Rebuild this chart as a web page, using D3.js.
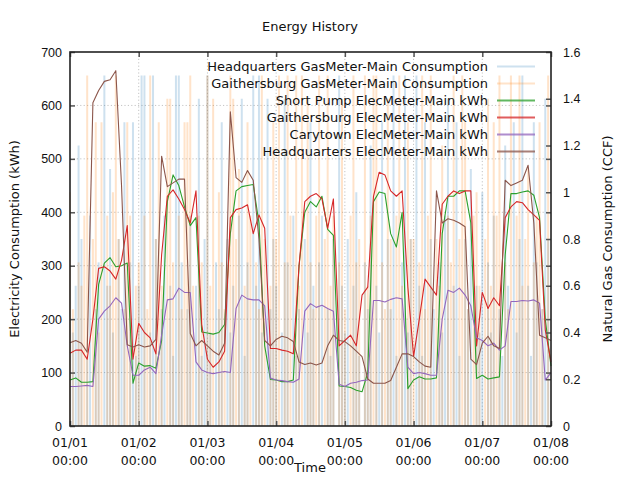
<!DOCTYPE html>
<html>
<head>
<meta charset="utf-8">
<script src="https://cdn.jsdelivr.net/npm/d3@7"></script>
<style>
  body { margin: 0; background: #fff; }
  svg { font-family: "DejaVu Sans", sans-serif; }
</style>
</head>
<body>
<div id="chart"></div>
<script>
var svgWidth = 640;
var svgHeight = 480;

var margin = {
  top: 52,
  right: 89,
  bottom: 54,
  left: 70
};

var width = svgWidth - margin.left - margin.right;
var height = svgHeight - margin.top - margin.bottom;

// electricity, one reading every 2 hours from 01/01 00:00 to 01/08 00:00
var elecHours = d3.range(0, 169, 2);

var hqElec = [156,160,155,138,605,628,645,648,665,450,152,148,
  152,148,150,162,505,448,455,462,462,173,150,160,
  150,140,133,155,588,465,456,478,460,350,160,150,
  162,168,165,158,120,115,118,114,118,150,170,160,
  158,150,140,130,88,80,80,80,85,110,135,135,
  130,120,112,110,440,380,388,385,380,373,125,115,
  155,168,150,145,460,450,455,460,488,380,170,165,
  160];

var gaithElec = [136,142,142,125,200,295,298,290,275,310,375,125,
  192,175,165,135,320,430,442,425,405,380,440,190,
  125,110,120,140,390,405,408,414,360,395,370,145,
  145,142,140,135,300,420,430,435,425,370,425,150,
  160,170,150,245,260,430,475,470,440,430,440,260,
  130,200,275,260,245,415,430,440,435,440,440,150,
  250,220,240,225,390,410,420,418,405,395,385,180,
  120];

var shortPumpElec = [86,90,82,82,83,265,305,315,298,300,305,80,
  118,112,113,108,160,420,470,450,410,375,390,176,
  174,172,175,190,360,440,448,450,452,380,150,87,
  86,83,83,86,300,400,420,410,430,368,357,75,
  74,72,67,64,100,420,438,435,360,335,400,70,
  86,92,88,88,90,360,430,430,440,440,380,89,
  95,88,90,92,320,435,435,438,440,432,390,200,
  112];

var carytownElec = [74,74,75,76,74,200,215,225,240,230,150,95,
  95,105,110,98,170,236,238,258,250,250,120,105,
  100,98,100,102,100,220,245,238,236,236,225,90,
  86,85,83,82,88,215,229,222,226,220,215,78,
  74,80,82,85,86,235,235,232,237,240,238,110,
  98,100,98,95,95,200,254,250,258,245,225,165,
  160,150,155,142,150,233,233,235,234,236,230,86,
  100];

// natural gas, hourly readings (CCF)
var gasHours = d3.range(0, 168);

var hqGas = [0,0.4,0.6,1.2,0.8,0,0.3,0.9,0,0.5,0.7,0,1.5,0.6,1.1,0.4,0,0.8,0.5,1.3,0,0.7,1.3,0.3,
  0.6,1.5,1.5,0,0.4,1.5,0.8,0,0.5,0.9,0,0.6,0.3,1.5,1.5,0.7,0,0.5,0.9,0,0.6,1.4,0.3,0.8,
  1.5,0.4,0,0.7,0.5,1.3,0,0.8,0.4,0.6,0,0.9,1.4,0.3,0.7,0,1.5,0.6,1.5,0.4,0,1.4,0.5,0.8,
  0.6,0,0.4,1.4,0.7,0,0.9,0.3,0.5,0,0.8,0.4,1.3,0.6,0,0.7,0.9,0,0.5,0.3,0.8,0,1.5,0.6,
  0.4,0.8,0,0.6,1.0,0.3,0,0.7,0.5,1.2,0,0.6,0.4,1.3,0,0.8,0.5,1.5,0.3,0,0.7,1.5,0.4,0.8,
  0,1.5,0.6,0.3,1.3,0,0.8,0.5,0,0.7,0.4,0.9,1.4,0,0.6,1.3,0.3,0,0.8,0.5,1.1,0,0.6,0.4,
  1.0,0,0.7,0.4,0.9,0,0.5,0.3,1.2,0.6,0,1.3,0.4,0.8,1.5,0,0.6,0.3,1.3,0.7,0,0.5,1.4,0.8];

var gaithGas = [1.0,0.5,0,0.7,0.6,0.9,1.5,0,0.8,1.3,0.4,1.3,0,0.9,0.6,1.0,1.5,0.8,0,0.5,1.3,0.9,0,0.6,
  0.7,0,0.9,0.5,1.5,0,0.8,1.3,0.6,0,1.4,1.4,0.7,0,0.9,0.5,1.3,1.3,1.5,0.6,0,0.9,0.7,0,
  1.5,0.6,1.4,0,1.0,0.7,0.5,0,1.5,1.4,0.8,1.1,0,0.6,1.3,0.9,0,0.7,0.5,1.5,0.8,0,0.6,1.3,
  0.8,1.5,0,0.7,1.5,0.9,0,1.5,0.6,1.5,0,1.4,0.7,0.5,0.9,1.5,0,0.8,1.5,0.6,0.9,0,0.7,1.4,
  0.5,0,0.9,1.5,0.7,0.8,0,1.5,0.6,0.9,1.5,1.5,0,0.7,0.5,1.4,0.8,0,0.9,1.5,0.6,0,1.3,0.8,
  0.8,0,0.7,1.5,0.5,0.9,1.5,0,0.8,0.6,1.2,0,0.9,0.7,1.5,0,0.8,1.5,1.3,0.5,0,0.9,1.0,0.6,
  0,0.8,1.4,0.6,1.3,0.9,1.5,0,0.7,0.5,1.5,0,0.9,1.5,0.6,0.8,1.1,0,0.7,0.9,1.3,0.5,0,1.5];

var elecTicks = [0,100,200,300,400,500,600,700];
var gasTicks = [0,0.2,0.4,0.6,0.8,1.0,1.2,1.4,1.6];

var legendNames = ["Headquarters GasMeter-Main Consumption",
  "Gaithersburg GasMeter-Main Consumption",
  "Short Pump ElecMeter-Main kWh",
  "Gaithersburg ElecMeter-Main kWh",
  "Carytown ElecMeter-Main kWh",
  "Headquarters ElecMeter-Main kWh"];

var startDate = new Date(2019, 0, 1);
function hourDate(h) { return new Date(2019, 0, 1, h); }

var svg = d3.select("#chart")
  .append("svg")
  .attr("width", svgWidth)
  .attr("height", svgHeight);

var chartGroup = svg.append("g")
  .attr("transform", `translate(${margin.left}, ${margin.top})`);

var xScale = d3.scaleTime()
  .domain([startDate, new Date(2019, 0, 8)])
  .range([0, width]);
var yScale = d3.scaleLinear().domain([0, 700]).range([height, 0]);
var y2Scale = d3.scaleLinear().domain([0, 1.6]).range([height, 0]);

var dayTicks = xScale.ticks(d3.timeDay.every(1));

// dotted grid
chartGroup.selectAll(".hgrid")
  .data(elecTicks.slice(1, -1))
  .enter()
  .append("line")
  .attr("x1", 0).attr("x2", width)
  .attr("y1", d => yScale(d)).attr("y2", d => yScale(d))
  .attr("stroke", "#c4c4c4")
  .attr("stroke-dasharray", "1.2,2.2");

chartGroup.selectAll(".vgrid")
  .data(dayTicks.slice(1, -1))
  .enter()
  .append("line")
  .attr("x1", d => xScale(d)).attr("x2", d => xScale(d))
  .attr("y1", 0).attr("y2", height)
  .attr("stroke", "#c4c4c4")
  .attr("stroke-dasharray", "1.2,2.2");

// gas impulses
var gasSeries = [
  { values: hqGas, color: "#1f77b4" },
  { values: gaithGas, color: "#ff7f0e" }
];

gasSeries.forEach(function (s) {
  chartGroup.append("g")
    .selectAll("line")
    .data(gasHours.filter(h => s.values[h] > 0))
    .enter()
    .append("line")
    .attr("x1", h => xScale(hourDate(h)))
    .attr("x2", h => xScale(hourDate(h)))
    .attr("y1", y2Scale(0))
    .attr("y2", h => y2Scale(s.values[h]))
    .attr("stroke", s.color)
    .attr("stroke-width", 2)
    .attr("stroke-opacity", 0.22);
});

// electricity lines
var elecSeries = [
  { values: shortPumpElec, color: "#2ca02c" },
  { values: gaithElec, color: "#d62728" },
  { values: carytownElec, color: "#9467bd" },
  { values: hqElec, color: "#8c564b" }
];

var line = d3.line()
  .x((d, i) => xScale(hourDate(elecHours[i])))
  .y(d => yScale(d));

elecSeries.forEach(function (s) {
  chartGroup.append("path")
    .datum(s.values)
    .attr("d", line)
    .attr("fill", "none")
    .attr("stroke", s.color)
    .attr("stroke-width", 1.1)
    .attr("stroke-linejoin", "round");
});

// axes, ticks inward
function styleAxis(g) {
  g.select(".domain").remove();
  g.selectAll(".tick line").attr("stroke", "#555").attr("stroke-width", 1.5);
  g.selectAll(".tick text").attr("fill", "#111").style("font-size", "12.5px");
}

chartGroup.append("g")
  .call(d3.axisLeft(yScale).tickValues(elecTicks).tickSize(-5).tickPadding(8))
  .call(styleAxis);

chartGroup.append("g")
  .attr("transform", `translate(${width}, 0)`)
  .call(d3.axisRight(yScale).tickValues(elecTicks.slice(1, -1)).tickSize(-5).tickFormat(""))
  .call(styleAxis);

chartGroup.append("g")
  .attr("transform", `translate(${width}, 0)`)
  .call(d3.axisRight(y2Scale).tickValues(gasTicks).tickSize(-5).tickPadding(12)
    .tickFormat(d => String(+d.toFixed(1))))
  .call(styleAxis);

chartGroup.append("g")
  .attr("transform", `translate(0, ${height})`)
  .call(d3.axisBottom(xScale).tickValues(dayTicks).tickSize(-5).tickFormat(""))
  .call(styleAxis);

chartGroup.append("g")
  .call(d3.axisTop(xScale).tickValues(dayTicks).tickSize(-5).tickFormat(""))
  .call(styleAxis);

var fmtDay = d3.timeFormat("%m/%d");
var fmtTime = d3.timeFormat("%H:%M");

var xLabels = chartGroup.selectAll(".xlabel")
  .data(dayTicks)
  .enter()
  .append("text")
  .attr("text-anchor", "middle")
  .style("font-size", "12.5px")
  .attr("fill", "#111");
xLabels.append("tspan")
  .attr("x", d => xScale(d))
  .attr("y", height + 21)
  .text(d => fmtDay(d));
xLabels.append("tspan")
  .attr("x", d => xScale(d))
  .attr("y", height + 39)
  .text(d => fmtTime(d));

// frame
chartGroup.append("rect")
  .attr("width", width)
  .attr("height", height)
  .attr("fill", "none")
  .attr("stroke", "#222")
  .attr("stroke-width", 1.6);

// legend
var legendColors = [
  { color: "#1f77b4", opacity: 0.22, w: 2 },
  { color: "#ff7f0e", opacity: 0.22, w: 2 },
  { color: "#2ca02c", opacity: 0.75, w: 1.8 },
  { color: "#d62728", opacity: 0.75, w: 1.8 },
  { color: "#9467bd", opacity: 0.75, w: 1.8 },
  { color: "#8c564b", opacity: 0.75, w: 1.8 }
];

var legend = chartGroup.append("g")
  .attr("transform", "translate(0, 14.5)");

legendNames.forEach(function (name, i) {
  legend.append("text")
    .attr("x", 418)
    .attr("y", i * 17 + 4.5)
    .attr("text-anchor", "end")
    .style("font-size", "13px")
    .attr("fill", "#111")
    .text(name);
  legend.append("line")
    .attr("x1", 427).attr("x2", 465)
    .attr("y1", i * 17).attr("y2", i * 17)
    .attr("stroke", legendColors[i].color)
    .attr("stroke-opacity", legendColors[i].opacity)
    .attr("stroke-width", legendColors[i].w);
});

// titles
svg.append("text")
  .attr("x", 310)
  .attr("y", 31)
  .attr("text-anchor", "middle")
  .style("font-size", "13px")
  .attr("fill", "#111")
  .text("Energy History");

svg.append("text")
  .attr("x", 310)
  .attr("y", 472)
  .attr("text-anchor", "middle")
  .style("font-size", "13px")
  .attr("fill", "#111")
  .text("Time");

svg.append("text")
  .attr("transform", "translate(19, 239) rotate(-90)")
  .attr("text-anchor", "middle")
  .style("font-size", "13px")
  .attr("fill", "#111")
  .text("Electricity Consumption (kWh)");

svg.append("text")
  .attr("transform", "translate(612, 239) rotate(-90)")
  .attr("text-anchor", "middle")
  .style("font-size", "13px")
  .attr("fill", "#111")
  .text("Natural Gas Consumption (CCF)");
</script>
</body>
</html>
